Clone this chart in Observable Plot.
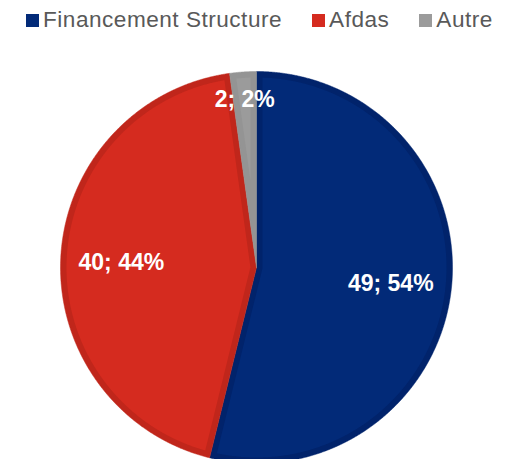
<!DOCTYPE html>
<html>
<head>
<meta charset="utf-8">
<script src="https://cdn.jsdelivr.net/npm/d3@7"></script>
<script src="https://cdn.jsdelivr.net/npm/@observablehq/plot@0.6"></script>
<style>
  html, body { margin: 0; padding: 0; background: #fff; overflow: hidden; }
  body { width: 520px; height: 459px; font-family: "Liberation Sans", Arial, sans-serif; }
  #legend { height: 31px; padding: 9px 0 0 26px; font-size: 22.6px; line-height: 22px; color: #595959; letter-spacing: 0.5px; white-space: nowrap; }
  #legend .item { display: inline-block; margin-right: 30px; }
  #legend .sw { display: inline-block; width: 13px; height: 13px; margin-right: 4px; vertical-align: baseline; }
  #chart svg { display: block; }
</style>
</head>
<body>
<div id="legend"></div>
<div id="chart"></div>
<script>
// ---- data ----
const categories = ["Financement Structure", "Afdas", "Autre"];
const values = [49, 40, 2];
const colors = ["#022a78", "#d52b1f", "#9b9b9b"];
const borderColors = ["#01236b", "#c0261b", "#949494"];

// ---- layout (not data) ----
const W = 520, H = 419;
const R = 196;           // pie radius in px
const cx = 256, cy = 227; // pie center in svg px
const inset = 6;         // darker inner border width
const labelPlacement = [ // radius fraction and angle (deg, clockwise from top); null angle = bisector
  {r: 0.69, angle: null},
  {r: 0.69, angle: 272},
  {r: 0.86, angle: 356}
];

// ---- legend ----
const legend = document.getElementById("legend");
categories.forEach((c, i) => {
  const item = document.createElement("span");
  item.className = "item";
  const sw = document.createElement("span");
  sw.className = "sw";
  sw.style.background = colors[i];
  item.appendChild(sw);
  item.appendChild(document.createTextNode(c));
  legend.appendChild(item);
});

// ---- pie geometry from data ----
const arcs = d3.pie().sort(null).value(d => d)(values);
const total = d3.sum(values);
const pt = (a, rho) => ({x: rho * Math.sin(a), y: rho * Math.cos(a)});
const arcPts = (a0, a1, rho) => {
  const n = Math.max(2, Math.ceil(Math.abs(a1 - a0) / (Math.PI / 720)));
  return d3.range(n + 1).map(k => pt(a0 + (a1 - a0) * k / n, rho));
};

const outer = [], inner = [];
arcs.forEach((a, i) => {
  const a0 = a.startAngle, a1 = a.endAngle, D = a1 - a0;
  // full slice (border colour)
  [{x: 0, y: 0}, ...arcPts(a0, a1, R), {x: 0, y: 0}]
    .forEach(p => outer.push({...p, k: i, fill: borderColors[i]}));
  // inset slice (main colour)
  const Rp = R - inset, d = Math.asin(inset / Rp);
  let poly;
  if (D < Math.PI) {
    const apex = pt((a0 + a1) / 2, inset / Math.sin(D / 2));
    poly = [apex, ...arcPts(a0 + d, a1 - d, Rp), apex];
  } else {
    poly = [...arcPts(a0 + d, a1 - d, Rp), ...arcPts(a1 - Math.PI / 2, a0 + Math.PI / 2, inset)];
    poly.push(poly[0]);
  }
  poly.forEach(p => inner.push({...p, k: i, fill: colors[i]}));
});

const fmtPct = d3.format(".0%");
const labels = arcs.map((a, i) => {
  const lp = labelPlacement[i];
  const ang = lp.angle == null ? (a.startAngle + a.endAngle) / 2 : lp.angle * Math.PI / 180;
  const p = pt(ang, lp.r * R);
  return {...p, text: `${values[i]}; ${fmtPct(values[i] / total)}`};
});

const chart = Plot.plot({
  width: W,
  height: H,
  margin: 0,
  x: {domain: [-R, R], range: [cx - R, cx + R], axis: null},
  y: {domain: [-R, R], range: [cy + R, cy - R], axis: null},
  color: {type: "identity"},
  style: {background: "#fff", overflow: "visible"},
  marks: [
    Plot.line(outer, {x: "x", y: "y", z: "k", fill: "fill", stroke: "fill", strokeWidth: 0.5, curve: "linear"}),
    Plot.line(inner, {x: "x", y: "y", z: "k", fill: "fill", stroke: null, curve: "linear"}),
    Plot.text(labels, {x: "x", y: "y", text: "text", fill: "#fff", fontSize: 23, fontWeight: "bold",
      fontFamily: "Liberation Sans, Arial, sans-serif"})
  ]
});
document.getElementById("chart").appendChild(chart);
</script>
</body>
</html>
